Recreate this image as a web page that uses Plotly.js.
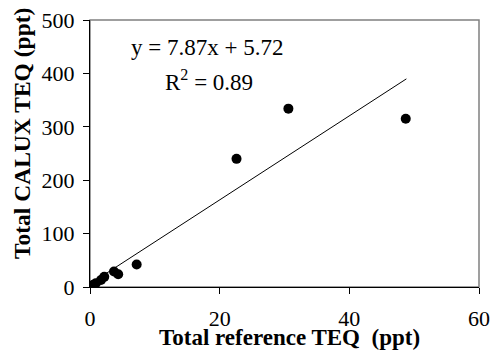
<!DOCTYPE html>
<html><head><meta charset="utf-8">
<script src="https://cdn.plot.ly/plotly-3.0.1.min.js"></script>
<style>body{margin:0;background:#fff}#c{width:492px;height:356px}</style>
</head><body><div id="c"></div>
<script>
var refTEQ   = [0.5, 0.9, 1.7, 2.2, 3.7, 4.35, 7.2, 22.6, 30.6, 48.7];
var caluxTEQ = [4, 7, 13, 19, 29, 24, 42, 240, 334, 315];
var slope = 7.87, intercept = 5.72;
var fitX = [0.5, 48.8];
var fitY = fitX.map(function(v){return slope*v+intercept;});
var xTicks = [0, 20, 40, 60];
var yTicks = [0, 100, 200, 300, 400, 500];

var font = 'Liberation Serif, Times New Roman, serif';
var data = [
  {x: fitX, y: fitY, mode: 'lines', line: {color: '#000', width: 1}, hoverinfo: 'skip'},
  {x: refTEQ, y: caluxTEQ, mode: 'markers', marker: {color: '#000', size: 10}}
];
var layout = {
  width: 492, height: 356, showlegend: false,
  margin: {l: 90, r: 13, t: 20, b: 69},
  paper_bgcolor: '#fff', plot_bgcolor: '#fff',
  font: {family: font, color: '#000', size: 18},
  xaxis: {range: [0, 60], tickvals: xTicks, ticks: 'outside', ticklen: 6, tickwidth: 1, tickcolor: '#000',
    showgrid: false, zeroline: false, showline: true, linecolor: '#000', linewidth: 1,
    tickfont: {family: font, size: 22}, ticklabelstandoff: 6},
  yaxis: {range: [0, 500], tickvals: yTicks, ticks: 'outside', ticklen: 6, tickwidth: 1, tickcolor: '#000',
    showgrid: false, zeroline: false, showline: true, linecolor: '#000', linewidth: 1,
    tickfont: {family: font, size: 22}, ticklabelstandoff: 4},
  shapes: [{type: 'rect', xref: 'paper', yref: 'paper', x0: 0, x1: 1, y0: 0, y1: 1,
    line: {color: '#808080', width: 1.5}, layer: 'below'}],
  annotations: [
    {text: 'y = 7.87x + 5.72', xref: 'paper', yref: 'paper', x: (207-90)/389, y: (287-47)/267,
     showarrow: false, xanchor: 'center', yanchor: 'middle', font: {family: font, size: 23}},
    {text: 'R<sup>2</sup> = 0.89', xref: 'paper', yref: 'paper', x: (209-90)/389, y: (287-80)/267,
     showarrow: false, xanchor: 'center', yanchor: 'middle', font: {family: font, size: 23}},
    {text: '<b>Total reference TEQ  (ppt)</b>', xref: 'paper', yref: 'paper', x: (289-90)/389, y: (287-337)/267,
     showarrow: false, xanchor: 'center', yanchor: 'middle', font: {family: font, size: 23}},
    {text: '<b>Total CALUX TEQ (ppt)</b>', xref: 'paper', yref: 'paper', x: (22-90)/389, y: (287-134)/267,
     showarrow: false, xanchor: 'center', yanchor: 'middle', textangle: -90, font: {family: font, size: 23.5}}
  ]
};
Plotly.newPlot('c', data, layout, {displayModeBar: false, staticPlot: true});
</script></body></html>
